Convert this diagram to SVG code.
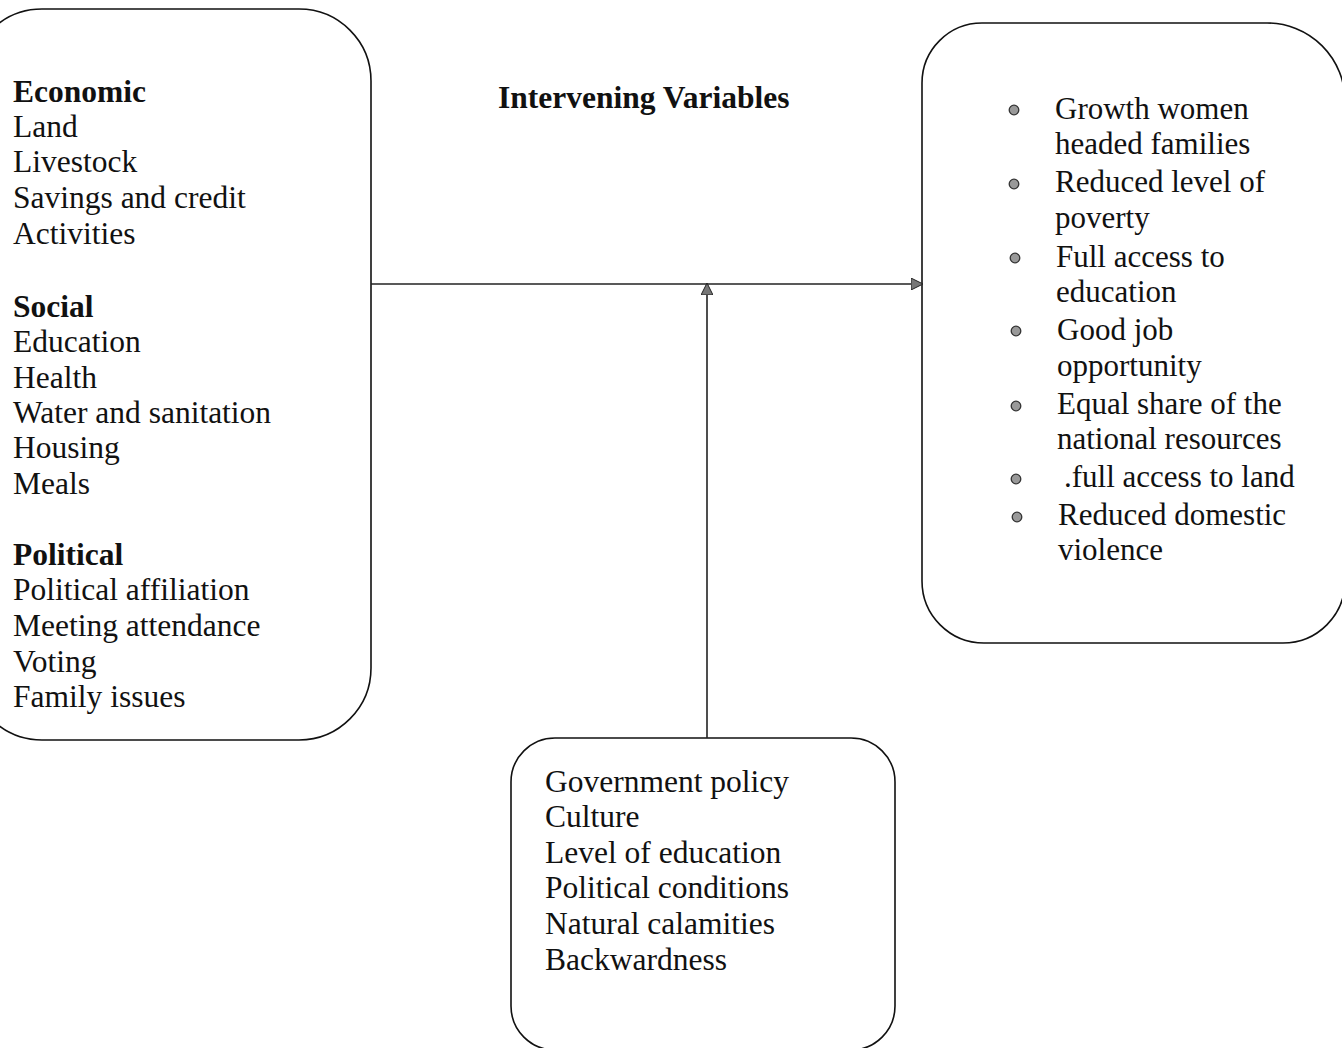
<svg xmlns="http://www.w3.org/2000/svg" width="1342" height="1048" viewBox="0 0 1342 1048">
<style>
.box{fill:none;stroke:#111;stroke-width:1.6}
text{font-family:"Liberation Serif","Times New Roman",serif;font-size:31.5px;fill:#111}
.r text{font-size:31px}
.b{font-weight:bold}
.bul{fill:#999;stroke:#333;stroke-width:1.3}
.con{stroke:#222;stroke-width:1.6;fill:none}
</style>
<defs>
<marker id="arr" viewBox="0 0 12 12" refX="11" refY="6" markerWidth="12" markerHeight="12" markerUnits="userSpaceOnUse" orient="auto">
<path d="M0,0 L12,6 L0,12 Z" fill="#777" stroke="#222" stroke-width="1"/>
</marker>
</defs>
<g id="left-node">
<rect class="box" x="-30" y="9" width="401" height="731" rx="72" ry="72"/>
<text x="13" y="102" class="b">Economic</text>
<text x="13" y="137">Land</text>
<text x="13" y="172">Livestock</text>
<text x="13" y="208">Savings and credit</text>
<text x="13" y="244">Activities</text>
<text x="13" y="317" class="b">Social</text>
<text x="13" y="352">Education</text>
<text x="13" y="388">Health</text>
<text x="13" y="423">Water and sanitation</text>
<text x="13" y="458">Housing</text>
<text x="13" y="494">Meals</text>
<text x="13" y="565" class="b">Political</text>
<text x="13" y="600">Political affiliation</text>
<text x="13" y="636">Meeting attendance</text>
<text x="13" y="672">Voting</text>
<text x="13" y="707">Family issues</text>
</g>
<g id="intervening-label">
<text x="498" y="108" class="b">Intervening Variables</text>
</g>
<g id="right-node" class="r">
<path class="box" d="M982,23 L1267,23 A78,78 0 0 1 1345,101 L1345,581 A62,62 0 0 1 1283,643 L984,643 A62,62 0 0 1 922,581 L922,83 A60,60 0 0 1 982,23 Z"/>
<circle class="bul" cx="1014" cy="110" r="4.8"/>
<text x="1055" y="119">Growth women</text>
<text x="1055" y="154">headed families</text>
<circle class="bul" cx="1014" cy="184" r="4.8"/>
<text x="1055" y="192">Reduced level of</text>
<text x="1055" y="228">poverty</text>
<circle class="bul" cx="1015" cy="258" r="4.8"/>
<text x="1056" y="267">Full access to</text>
<text x="1056" y="302">education</text>
<circle class="bul" cx="1016" cy="331" r="4.8"/>
<text x="1057" y="340">Good job</text>
<text x="1057" y="376">opportunity</text>
<circle class="bul" cx="1016" cy="406" r="4.8"/>
<text x="1057" y="414">Equal share of the</text>
<text x="1057" y="449">national resources</text>
<circle class="bul" cx="1016" cy="479" r="4.8"/>
<text x="1064" y="487">.full access to land</text>
<circle class="bul" cx="1017" cy="517" r="4.8"/>
<text x="1058" y="525">Reduced domestic</text>
<text x="1058" y="560">violence</text>
</g>
<g id="bottom-node">
<rect class="box" x="511" y="738" width="384" height="312" rx="44" ry="44"/>
<text x="545" y="792">Government policy</text>
<text x="545" y="827">Culture</text>
<text x="545" y="863">Level of education</text>
<text x="545" y="898">Political conditions</text>
<text x="545" y="934">Natural calamities</text>
<text x="545" y="970">Backwardness</text>
</g>
<g id="connectors">
<path class="con" d="M371,284 L922,284" marker-end="url(#arr)"/>
<path class="con" d="M707,738 L707,284" marker-end="url(#arr)"/>
</g>
</svg>
